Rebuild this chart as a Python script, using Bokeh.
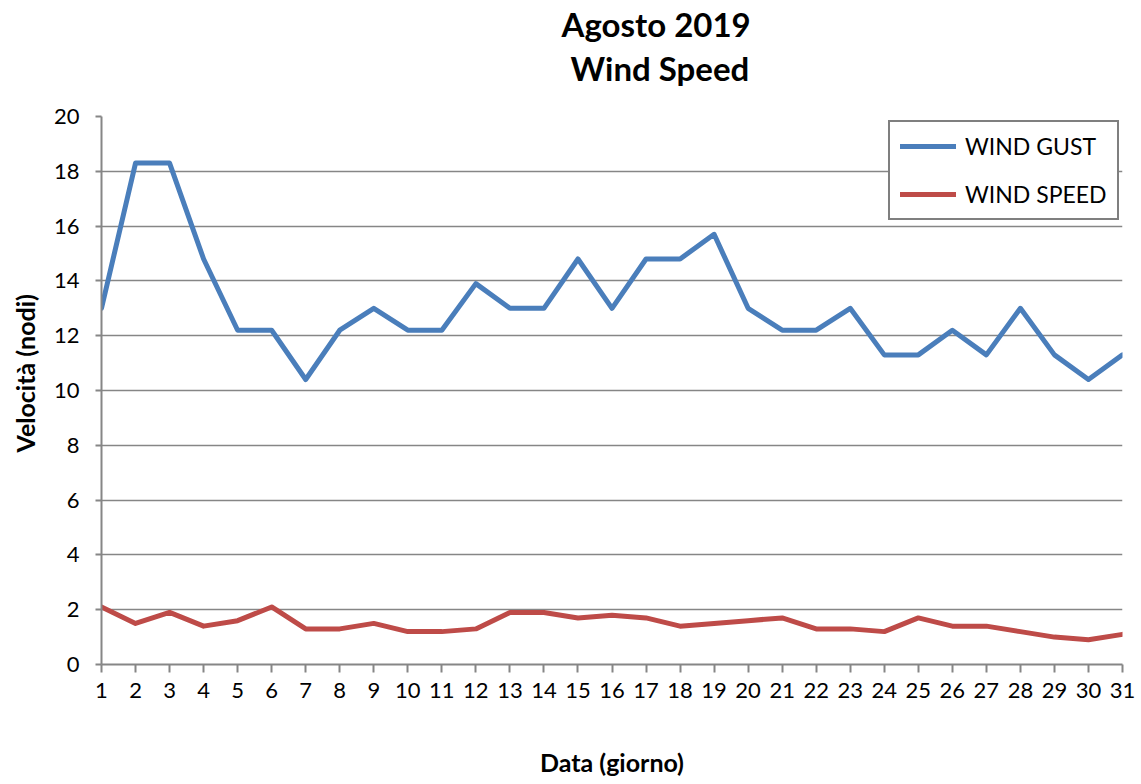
from bokeh.plotting import figure
from bokeh.models import FixedTicker, Legend, LegendItem, Range1d, Title
from bokeh.embed import file_html
from bokeh.resources import INLINE

days = list(range(1, 32))
wind_gust = [13.0, 18.3, 18.3, 14.8, 12.2, 12.2, 10.4, 12.2, 13.0, 12.2, 12.2, 13.9, 13.0, 13.0, 14.8, 13.0,
             14.8, 14.8, 15.7, 13.0, 12.2, 12.2, 13.0, 11.3, 11.3, 12.2, 11.3, 13.0, 11.3, 10.4, 11.3]
wind_speed = [2.1, 1.5, 1.9, 1.4, 1.6, 2.1, 1.3, 1.3, 1.5, 1.2, 1.2, 1.3, 1.9, 1.9, 1.7, 1.8,
              1.7, 1.4, 1.5, 1.6, 1.7, 1.3, 1.3, 1.2, 1.7, 1.4, 1.4, 1.2, 1.0, 0.9, 1.1]
y_ticks = list(range(0, 21, 2))
title_lines = ["Agosto  2019", "Wind Speed"]
series_names = ["WIND GUST", "WIND SPEED"]
y_title = "Velocità  (nodi)"
x_title = "Data (giorno)"

FONT = "Lato"
GRID = "#868686"

p = figure(width=1141, height=784, output_backend="svg", toolbar_location=None,
           x_range=Range1d(1, 31), y_range=Range1d(0, 20),
           min_border_left=101, min_border_right=19, min_border_top=116, min_border_bottom=120)
p.outline_line_color = None
p.xgrid.grid_line_color = None
p.ygrid.grid_line_color = GRID
p.ygrid.grid_line_width = 1.5
p.ygrid.ticker = FixedTicker(ticks=y_ticks)

r1 = p.line(days, wind_gust, line_color="#4A7EBB", line_width=5, line_join="round", line_cap="round")
r2 = p.line(days, wind_speed, line_color="#BE4B48", line_width=5, line_join="round", line_cap="round")

p.yaxis.ticker = FixedTicker(ticks=y_ticks)
p.xaxis.ticker = FixedTicker(ticks=days)
for ax in (p.xaxis, p.yaxis):
    ax.axis_line_color = GRID
    ax.axis_line_width = 2
    ax.major_tick_line_color = GRID
    ax.major_tick_line_width = 2
    ax.major_tick_in = 0
    ax.minor_tick_line_color = None
    ax.major_label_text_font = FONT
    ax.major_label_text_font_size = "22px"
    ax.major_label_text_color = "black"
    ax.axis_label_text_font = FONT
    ax.axis_label_text_font_style = "bold"
    ax.axis_label_text_font_size = "25px"
    ax.axis_label_text_color = "black"
p.yaxis.major_tick_out = 6
p.xaxis.major_tick_out = 8
p.yaxis.major_label_standoff = 16
p.xaxis.major_label_standoff = 10
p.xaxis.axis_label = x_title
p.xaxis.axis_label_standoff = 46

# y-axis title, placed as a side title so it can sit off-centre like the reference
p.add_layout(Title(text=y_title, align="left", offset=212, vertical_align="top", standoff=18,
                   text_font=FONT, text_font_style="bold", text_font_size="25px", text_color="black"),
             "left")

legend = Legend(items=[LegendItem(label=series_names[0], renderers=[r1]),
                       LegendItem(label=series_names[1], renderers=[r2])],
                location=(787, 444))
legend.border_line_color = "black"
legend.border_line_width = 2
legend.background_fill_alpha = 1
legend.label_text_font = FONT
legend.label_text_font_size = "23px"
legend.label_text_color = "black"
legend.glyph_width = 56
legend.glyph_height = 28
legend.label_height = 28
legend.spacing = 20
legend.padding = 10
legend.margin = 0
legend.label_standoff = 9
p.add_layout(legend, "center")

# two-line title (inner line first, then outer line)
p.add_layout(Title(text=title_lines[1], align="left", offset=469, vertical_align="bottom", standoff=58,
                   text_font=FONT, text_font_style="bold", text_font_size="33px", text_color="black"),
             "above")
p.add_layout(Title(text=title_lines[0], align="left", offset=460, vertical_align="bottom", standoff=-54,
                   text_font=FONT, text_font_style="bold", text_font_size="33px", text_color="black"),
             "above")

open("out.html", "w").write(file_html(p, INLINE))
